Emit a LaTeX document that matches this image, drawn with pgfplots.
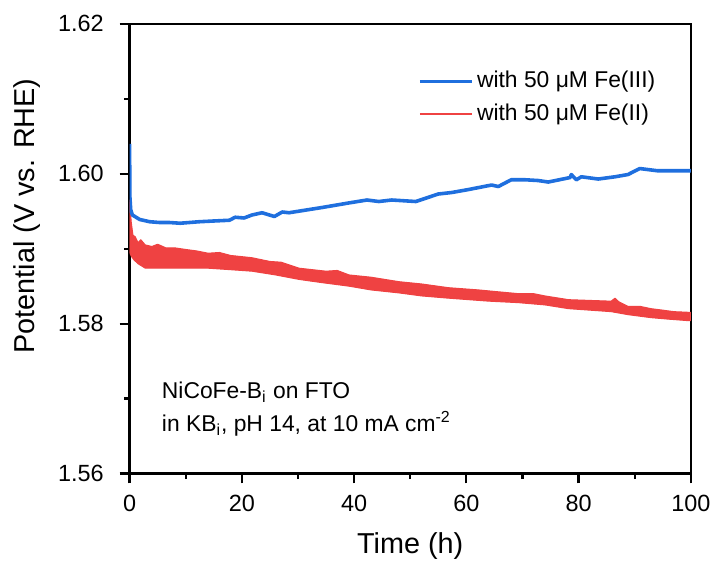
\documentclass[border=0pt]{standalone}
\usepackage{pgfplots}
\pgfplotsset{compat=1.18}
\usepackage{fontspec}
\setmainfont{Liberation Sans}
\definecolor{cblue}{RGB}{31,111,222}
\definecolor{cred}{RGB}{239,66,66}
\begin{document}
\begin{tikzpicture}
\begin{axis}[
  name=ax,
  scale only axis,
  width=281.5bp, height=225.5bp,
  xmin=0, xmax=100, ymin=1.56, ymax=1.62,
  xtick={0,20,40,60,80,100},
  ytick={1.56,1.58,1.60,1.62},
  minor x tick num=1, minor y tick num=1,
  xtick pos=bottom, ytick pos=left,
  tick align=outside,
  major tick length=5bp, minor tick length=2.8bp,
  axis line style={line width=1.3bp},
  tick style={line width=1.1bp, black},
  /pgf/number format/assume math mode=true,
  yticklabel style={/pgf/number format/fixed, /pgf/number format/fixed zerofill, /pgf/number format/precision=2, xshift=-4.5bp},
  xticklabel style={yshift=-2.5bp},
  ticklabel style={font=\fontsize{11.8}{14}\selectfont},
  xlabel={Time (h)},
  ylabel={Potential (V vs. RHE)},
  label style={font=\fontsize{14.5}{16}\selectfont},
  xlabel style={at={(axis description cs:0.5,-0.177)}, anchor=base},
  ylabel style={at={(axis description cs:-0.183,0.573)}, anchor=center},
  legend style={at={(0.955,0.913)}, anchor=north east, draw=none, fill=none,
    font=\fontsize{11.5}{16}\selectfont, row sep=2.5bp},
  legend cell align=left,
  legend image code/.code={\draw[#1] (0bp,0bp) -- (26bp,0bp);},
]
\addlegendimage{draw=cblue, line width=1.4bp}
\addlegendimage{draw=cred, line width=1bp}
% red series: band drawn between its upper and lower envelope
\addplot[cred, fill=cred, line width=0.5bp, line join=round, forget plot] coordinates {
(0,1.5965) (0.15,1.5950) (0.3,1.5935) (0.6,1.5918) (1,1.5916) (1.5,1.5908) (2,1.5912) (2.8,1.5905) (4,1.5903) (5,1.5906) (6.5,1.5901) (8.2,1.5901) (10,1.5899) (12,1.5897) (14,1.5894) (16,1.5895) (18,1.5891) (21.8,1.5888) (25,1.5883) (27,1.5882) (30.2,1.5874) (35,1.5870) (37,1.5871) (39.1,1.5865) (43,1.5862) (48,1.5856) (52,1.5853) (56.8,1.5848) (62.2,1.5845) (65,1.5843) (69.3,1.5840) (72,1.5840) (74,1.5837) (78.2,1.5832) (82,1.5831) (85.8,1.5830) (86.5,1.5834) (87.2,1.5829) (88.8,1.5823) (91,1.5823) (92.9,1.5820) (95,1.5818) (97,1.5816) (100,1.5815)
(100,1.5804) (99.5,1.5804) (96,1.5806) (92.9,1.5808) (88.8,1.5812) (85.8,1.5816) (78.2,1.5820) (74,1.5825) (69.3,1.5828) (64,1.5830) (60.4,1.5832) (56.8,1.5834) (52,1.5837) (48,1.5841) (43,1.5845) (39.1,1.5850) (34,1.5855) (30.2,1.5859) (26,1.5865) (21.8,1.5870) (18,1.5872) (14,1.5874) (8.2,1.5874) (4,1.5874) (2.8,1.5874) (1.5,1.5880) (0.8,1.5885) (0.3,1.5890) (0,1.5895)
} -- cycle;
\addplot[cblue, line width=1.8bp, line join=round, forget plot] coordinates {
(0,1.6040) (0.05,1.5970) (0.2,1.5952) (0.5,1.5945) (1.8,1.5939) (3.6,1.5936) (5.3,1.5935) (7,1.5935) (9,1.5934) (12.4,1.5936) (15,1.5937) (17.8,1.5938) (18.8,1.5942) (20.4,1.5941) (21.8,1.5945) (23.6,1.5948) (25.8,1.5943) (27.2,1.5949) (28.4,1.5948) (34.3,1.5955) (39,1.5961) (42.3,1.5965) (44.4,1.5963) (46.7,1.5965) (51,1.5963) (55,1.5973) (57.4,1.5975) (60.4,1.5979) (64.5,1.5985) (65.7,1.5983) (68,1.5992) (70.5,1.5992) (72.8,1.5991) (74.6,1.5989) (78.5,1.5995) (78.7,1.5999) (79.6,1.5992) (80.5,1.5996) (83.5,1.5993) (86.5,1.5996) (88.8,1.5999) (90.9,1.6007) (94.1,1.6004) (100,1.6004)
};
\legend{with 50 μM Fe(III), with 50 μM Fe(II)}
\node[anchor=base west, font=\fontsize{11.5}{13}\selectfont, inner sep=0pt] at (axis cs:5.7,1.5700) {NiCoFe-B\textsubscript{i} on FTO};
\node[anchor=base west, font=\fontsize{11.5}{13}\selectfont, inner sep=0pt] at (axis cs:5.7,1.5656) {in KB\textsubscript{i}, pH 14, at 10 mA cm\textsuperscript{-2}};
\end{axis}
\path ([xshift=-65bp,yshift=-45bp]ax.south west) rectangle ([xshift=12bp,yshift=12bp]ax.north east);
\end{tikzpicture}
\end{document}
